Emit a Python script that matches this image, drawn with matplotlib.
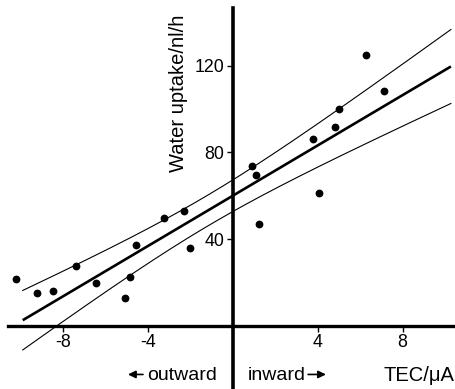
import numpy as np
import matplotlib
matplotlib.use("Agg")
import matplotlib.pyplot as plt

plt.rcParams['font.family'] = ['Liberation Sans', 'DejaVu Sans']

# Data points (TEC in µA, water uptake in nl/h)
tec = [-10.21, -9.22, -8.47, -7.36, -6.45, -5.05, -4.85, -4.56, -3.22, -2.28, -2.01,
       0.92, 1.10, 1.22, 3.76, 4.08, 4.80, 5.02, 6.29, 7.12]
uptake = [21.8, 15.1, 16.3, 27.8, 19.8, 12.9, 22.7, 37.2, 49.6, 53.1, 36.1,
          73.6, 69.6, 47.1, 86.2, 61.4, 91.7, 100.0, 125.0, 108.2]

# Fitted regression line and 95% confidence band parameters
intercept = 60.0
slope = 5.8
band_center = -1.2
band_halfwidth_center = 7.1
band_spread = 1.35
fit_range = [-9.88, 10.27]

x_ticks = [-8, -4, 4, 8]
y_ticks = [40, 80, 120]

fig = plt.figure(figsize=(4.56, 3.89), dpi=100)
ax = fig.add_axes([0, 0, 1, 1])
ax.set_xlim(-10.95, 10.51)
ax.set_ylim(-29.0, 150.2)

xs = np.linspace(fit_range[0], fit_range[1], 200)
yfit = intercept + slope * xs
hw = np.sqrt(band_halfwidth_center**2 + (band_spread * (xs - band_center))**2)
ax.plot(xs, yfit, color='black', lw=1.9, solid_capstyle='butt')
ax.plot(xs, yfit + hw, color='black', lw=0.8)
ax.plot(xs, yfit - hw, color='black', lw=0.8)

ax.plot(tec, uptake, 'o', color='black', ms=4.6, mec='black')

for s in ['top', 'right']:
    ax.spines[s].set_visible(False)
ax.spines['left'].set_position(('data', 0))
ax.spines['bottom'].set_position(('data', 0))
ax.spines['left'].set_linewidth(2.6)
ax.spines['bottom'].set_linewidth(2.4)
ax.spines['left'].set_bounds(-29.0, 146.5)
ax.spines['bottom'].set_bounds(-10.55, 10.51)

ax.set_xticks(x_ticks)
ax.set_xticklabels([str(t) for t in x_ticks])
ax.set_yticks(y_ticks)
ax.set_yticklabels([str(t) for t in y_ticks])
ax.tick_params(axis='both', direction='out', length=4, width=1, labelsize=12.8, pad=2)

ax.text(-2.55, 107, 'Water uptake/nl/h', rotation=90, ha='center', va='center', fontsize=14.5)
ax.text(-4.03, -22.6, 'outward', ha='left', va='center', fontsize=14)
ax.text(0.72, -22.6, 'inward', ha='left', va='center', fontsize=14)
ax.text(10.45, -22.6, 'TEC/\u03bcA', ha='right', va='center', fontsize=14.5)

arrow_kw = dict(arrowstyle='-|>,head_length=0.45,head_width=0.22', color='black', lw=1.2,
                shrinkA=0, shrinkB=0)
ax.annotate('', xy=(-4.93, -22.3), xytext=(-4.22, -22.3), arrowprops=arrow_kw)
ax.annotate('', xy=(4.39, -22.3), xytext=(3.55, -22.3), arrowprops=arrow_kw)

fig.savefig('out.png', dpi=100)
